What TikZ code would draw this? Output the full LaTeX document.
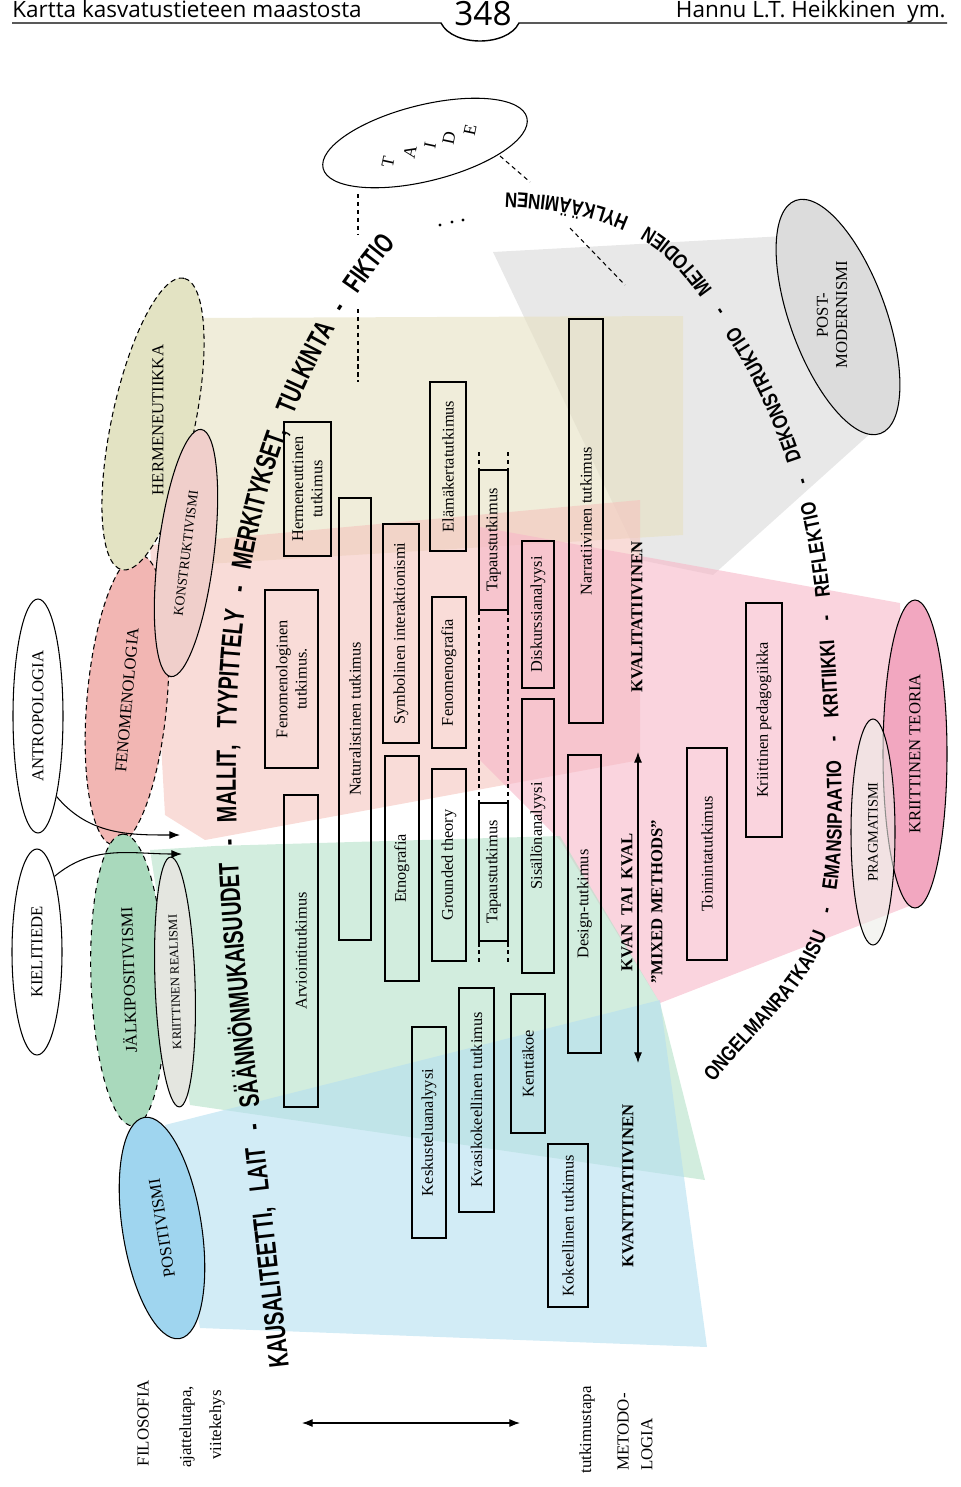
\documentclass[tikz,border=0pt]{standalone}
\usepackage{fontspec}
\setmainfont{Liberation Serif}
\newfontfamily\headfont{Open Sans}
\newfontfamily\kausfont[FakeStretch=0.7]{Liberation Sans}
\newfontfamily\ongelfont[FakeStretch=0.8]{Liberation Sans}
\usepackage{xcolor}
\usetikzlibrary{shapes.geometric,arrows.meta,decorations.text}

\definecolor{fenopink}{HTML}{F2B6B3}
\definecolor{hermbeige}{HTML}{E3E3C3}
\definecolor{konspink}{HTML}{F0CFCB}
\definecolor{jalkgreen}{HTML}{A9D9BC}
\definecolor{realgrey}{HTML}{E4E6E0}
\definecolor{posiblue}{HTML}{9FD5EF}
\definecolor{postgrey}{HTML}{DCDCDC}
\definecolor{ktpink}{HTML}{F2A7C0}
\definecolor{praggrey}{HTML}{EDEDE8}
\definecolor{fangrey}{HTML}{D9D9D9}
\definecolor{fanbeige}{HTML}{E6E1C1}
\definecolor{fanpink}{HTML}{F5C5BE}
\definecolor{fankt}{HTML}{F7B7C8}
\definecolor{fangreen}{HTML}{B4E1C8}
\definecolor{fanblue}{HTML}{B4DFF0}

\newcommand\kausarc{\kausfont\bfseries\fontsize{16}{16}\selectfont}
\newcommand\ongelarc{\ongelfont\bfseries\fontsize{12}{12}\selectfont}

\begin{document}
\begin{tikzpicture}[x=0.02cm,y=-0.02cm,
	philo/.style={ellipse,draw,line width=0.6pt,inner sep=0pt,font=\fontsize{9.5}{11}\selectfont},
	smallphilo/.style={philo,font=\fontsize{7.8}{9}\selectfont},
	method/.style={rectangle,draw,line width=0.6pt,inner sep=1pt,align=center,rotate=90,font=\fontsize{9.3}{11}\selectfont},
	dims/.style 2 args={minimum width=#1*0.02cm,minimum height=#2*0.02cm},
	fan/.style={fill=#1,fill opacity=0.6},
	tag/.style={rotate=90,font=\bfseries\fontsize{9.5}{11}\selectfont},
	side/.style={rotate=90,font=\fontsize{9.6}{13.5}\selectfont},
	dashline/.style={line width=0.6pt,dash pattern=on 2.5pt off 2pt},
	arr/.style={-{Latex[length=6pt,width=4.5pt]},line width=0.6pt},
	dblarr/.style={{Latex[length=6pt,width=4.5pt]}-{Latex[length=6pt,width=4.5pt]},line width=0.6pt}]
	\useasboundingbox (0,0) rectangle (960,1487);

	% page head
	\node[font=\headfont\fontsize{12.8}{13}\selectfont,anchor=base west,inner sep=0pt] (Title) at (12,18) {Kartta kasvatustieteen maastosta};
	\node[font=\headfont\fontsize{19}{19}\selectfont,anchor=base,inner sep=0pt] (Page) at (483,26) {348};
	\node[font=\headfont\fontsize{12.8}{13}\selectfont,anchor=base east,inner sep=0pt] (Authors) at (946,18) {Hannu L.T. Heikkinen\ \ ym.};
	\draw[line width=0.8pt] (12,23) -- (441,23) .. controls (453,47) and (507,47) .. (519,23) -- (947,23);

	% the coloured fans
	\fill[fan=fangrey] (493,252) -- (785,236) -- (872,432) -- (713,575) -- (640,560) -- cycle;
	\fill[fan=fanbeige] (190,318) -- (683,316) -- (683,535) -- (190,565) -- cycle;
	\fill[fan=fanpink] (150,545) -- (640,500) -- (640,760) -- (205,840) -- (165,815) -- cycle;
	\fill[fan=fankt] (480,527) -- (900,603) -- (912,905) -- (660,1003) -- (560,840) -- (480,760) -- cycle;
	\fill[fan=fangreen] (150,850) -- (215,846) -- (560,836) -- (660,1003) -- (705,1180) -- (190,1105) -- cycle;
	\fill[fan=fanblue] (165,1125) -- (660,1000) -- (707,1347) -- (200,1328) -- cycle;

	% philosophies
	\node[philo,dims={234}{50},rotate=90] (Antropologia) at (38,716) {ANTROPOLOGIA};
	\node[philo,dims={206}{50},rotate=90] (Kielitiede) at (37,952) {KIELITIEDE};
	\node[philo,dims={292}{80},rotate=85,fill=fenopink,densely dashed] (Fenomenologia) at (127,700) {FENOMENOLOGIA};
	\node[philo,dims={298}{83},rotate=78,fill=hermbeige,densely dashed] (Hermeneutiikka) at (153,424) {};
	\node[philo,draw=none,rotate=90] (HermText) at (158,420) {HERMENEUTIIKKA};
	\node[smallphilo,dims={249}{56},rotate=83,fill=konspink] (Konstruktivismi) at (186,553) {KONSTRUKTIVISMI};
	\node[philo,dims={292}{74},rotate=92,fill=jalkgreen,dashed] (Jalkipositivismi) at (128,980) {JÄLKIPOSITIVISMI};
	\node[smallphilo,dims={250}{40},rotate=92,fill=realgrey,font=\fontsize{7.2}{9}\selectfont] (Realismi) at (175,982) {KRIITTINEN REALISMI};
	\node[philo,dims={224}{79},rotate=99,fill=posiblue] (Positivismi) at (162,1228) {POSITIVISMI};
	\node[philo,dims={210}{76},rotate=14] (Taide) at (425,143) {};
	\foreach \ch/\lx/\ly in {T/388/162,A/410/152,I/430/145,D/449/138,E/470/130}
		\node[rotate=78,font=\fontsize{10}{10}\selectfont,inner sep=0pt] (Taide\ch) at (\lx,\ly) {\ch};
	\node[philo,dims={248}{96},rotate=110,fill=postgrey] (Postmodernismi) at (838,317) {};
	\node[philo,draw=none,rotate=90,align=center] (PostText) at (832,315) {POST-\\MODERNISMI};
	\node[philo,dims={308}{64},rotate=90,fill=ktpink] (KriittinenTeoria) at (915,754) {KRIITTINEN TEORIA};
	\node[smallphilo,dims={226}{44},rotate=90,fill=praggrey,fill opacity=0.6,text opacity=1,font=\fontsize{8.2}{9}\selectfont] (Pragmatismi) at (873,832) {PRAGMATISMI};

	% dashed hints round TAIDE
	\coordinate (TaideA) at (358,194);
	\coordinate (TaideB) at (358,235);
	\coordinate (FiktioA) at (358,309);
	\coordinate (FiktioB) at (358,382);
	\coordinate (TaideC) at (500,156);
	\coordinate (TaideD) at (530,182);
	\coordinate (HylkA) at (570,228);
	\coordinate (HylkB) at (625,285);
	\draw[dashline] (TaideA) -- (TaideB);
	\draw[dashline] (FiktioA) -- (FiktioB);
	\draw[dashline] (TaideC) -- (TaideD);
	\draw[dashline] (HylkA) -- (HylkB);
	\foreach \dx/\dy in {440/225,452/222,463/220}
		\fill (\dx,\dy) circle[radius=0.9pt];

	% tapaustutkimus guide lines
	\coordinate (TapA) at (479,452);
	\coordinate (TapB) at (479,963);
	\coordinate (TapC) at (508,452);
	\coordinate (TapD) at (508,963);
	\draw[dashline] (TapA) -- (TapB);
	\draw[dashline] (TapC) -- (TapD);

	% methods
	\node[method,dims={134}{47}] (Hermeneuttinen) at (307.5,489) {Hermeneuttinen\\tutkimus};
	\node[method,dims={178}{53}] (Fenomenologinen) at (291.5,679) {Fenomenologinen\\tutkimus.};
	\node[method,dims={312}{34}] (Arviointi) at (301,951) {Arviointitutkimus};
	\node[method,dims={442}{32}] (Naturalistinen) at (355,719) {Naturalistinen tutkimus};
	\node[method,dims={219}{36}] (Symbolinen) at (401,633.5) {Symbolinen interaktionismi};
	\node[method,dims={225}{34}] (Etnografia) at (402,868.5) {Etnografia};
	\node[method,dims={169}{36}] (Elamakerta) at (448,466.5) {Elämäkertatutkimus};
	\node[method,dims={151}{34}] (Fenomenografia) at (449,672.5) {Fenomenografia};
	\node[method,dims={192}{34}] (Grounded) at (449,865) {Grounded theory};
	\node[method,dims={140}{29}] (TapausYla) at (493.5,540) {Tapaustutkimus};
	\node[method,dims={138}{29}] (TapausAla) at (493.5,872) {Tapaustutkimus};
	\node[method,dims={147}{32}] (Diskurssi) at (538,614.5) {Diskurssianalyysi};
	\node[method,dims={274}{32}] (Sisallon) at (538,836) {Sisällönanalyysi};
	\node[method,dims={404}{34}] (Narratiivinen) at (586,521) {Narratiivinen tutkimus};
	\node[method,dims={298}{33}] (Design) at (584.5,904) {Design-tutkimus};
	\node[method,dims={211}{34}] (Keskustelu) at (429,1132.5) {Keskusteluanalyysi};
	\node[method,dims={224}{35}] (Kvasikokeellinen) at (476.5,1100) {Kvasikokeellinen tutkimus};
	\node[method,dims={139}{34}] (Kenttakoe) at (528,1063.5) {Kenttäkoe};
	\node[method,dims={163}{40}] (Kokeellinen) at (568,1225.5) {Kokeellinen tutkimus};
	\node[method,dims={212}{40}] (Toiminta) at (707,854) {Toimintatutkimus};
	\node[method,dims={234}{36}] (Pedagogiikka) at (764,720) {Kriittinen pedagogiikka};

	% qualitative / quantitative
	\node[tag] (Kvali) at (637,617) {KVALITATIIVINEN};
	\node[tag] (Kvanti) at (628,1186) {KVANTITATIIVINEN};
	\node[tag] (KvanTai) at (627,902) {KVAN\ \ TAI\ \ KVAL};
	\node[tag] (Mixed) at (657,902) {”MIXED METHODS”};
	\coordinate (MixTop) at (638,752);
	\coordinate (MixBot) at (638,1063);
	\draw[dblarr] (MixTop) -- (MixBot);

	% legend at the foot
	\node[side] (Filosofia) at (143,1423) {FILOSOFIA};
	\node[side] (Ajattelutapa) at (187,1427) {ajattelutapa,};
	\node[side] (Viitekehys) at (217,1425) {viitekehys};
	\node[side] (Tutkimustapa) at (587,1430) {tutkimustapa};
	\node[side,align=left] (Metodologia) at (635,1432) {METODO-\\LOGIA};
	\coordinate (LegLeft) at (302,1423);
	\coordinate (LegRight) at (520,1423);
	\draw[dblarr] (LegLeft) -- (LegRight);

	% draw the arrows
	\coordinate (AntroEnd) at (180,835);
	\coordinate (KieliEnd) at (182,854);
	\draw[arr] (Antropologia.-167) to[out=-50,in=180] (AntroEnd);
	\draw[arr] (Kielitiede.-13) to[out=40,in=180] (KieliEnd);

	% curved keywords
	\path[decorate,decoration={text along path,
		text={|\kausarc|KAUSALITEETTI, LAIT - SÄÄNNÖNMUKAISUUDET - MALLIT, TYYPITTELY - MERKITYKSET, TULKINTA - FIKTIO},
		text align={fit to path stretching spaces},raise=-5.7pt}]
		(279,1368) .. controls (250,1100) and (224,920) .. (226,760) .. controls (226,600) and (250,400) .. (388,238);
	\path[decorate,decoration={text along path,
		text={|\ongelarc|ONGELMANRATKAISU - EMANSIPAATIO - KRITIIKKI - REFLEKTIO - DEKONSTRUKTIO - METODIEN HYLKÄÄMINEN},
		text align={fit to path stretching spaces},raise=-4.3pt}]
		(708,1078) .. controls (747,1026) and (808,983) .. (823,920)
		.. controls (840,849) and (834,773) .. (830,700)
		.. controls (826,626) and (822,550) .. (800,480)
		.. controls (785,432) and (765,382) .. (737,340)
		.. controls (712,303) and (688,260) .. (650,237)
		.. controls (608,211) and (555,202) .. (505,200);
\end{tikzpicture}
\end{document}
